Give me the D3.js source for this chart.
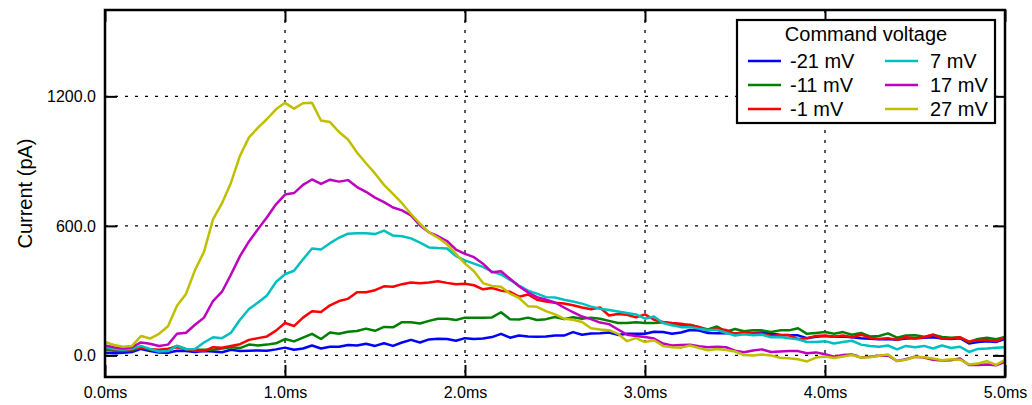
<!DOCTYPE html>
<html>
<head>
<meta charset="utf-8">
<script src="https://cdn.jsdelivr.net/npm/d3@7"></script>
<style>
  html, body { margin: 0; padding: 0; background: #fff; }
  svg text { font-family: "Liberation Sans", Arial, Helvetica, sans-serif; fill: #000; }
</style>
</head>
<body>
<svg id="chart" width="1032" height="405"></svg>
<script>
// Sample times (ms), one point every 0.05 ms from 0 to 5 ms
const timeStartMs = 0;
const timeStepMs = 0.05;

const seriesLabels = ["-21 mV", "-11 mV", "-1 mV", "7 mV", "17 mV", "27 mV"];
const seriesColors = ["#0000ff", "#008000", "#ff0000", "#00bfbf", "#bf00bf", "#bfbf00"];

// Recorded current (pA) for each command voltage
const currentMinus21 = [12,10,12,16,30,20,14,12,22,20,16,20,18,15,26,20,22,23,22,28,
  36,26,32,46,32,40,40,48,46,54,44,56,44,60,72,60,74,77,76,68,
  80,76,78,85,100,82,92,88,86,88,92,92,108,96,102,103,106,95,100,100,
  100,110,108,100,106,118,115,104,103,103,102,100,104,106,100,96,94,93,80,86,
  90,86,88,84,80,77,75,76,73,78,80,82,84,78,76,80,55,62,66,62,76];
const currentMinus11 = [26,22,20,24,36,26,24,28,44,30,26,26,26,32,38,34,50,46,50,56,
  76,65,82,100,76,106,100,110,113,124,114,132,130,154,154,148,160,170,170,164,
  175,175,175,176,200,168,166,175,164,168,178,168,177,170,175,170,160,150,150,154,
  150,150,154,147,140,142,131,120,134,110,122,112,116,116,108,116,116,126,100,104,
  108,100,108,96,104,88,90,102,82,92,93,86,96,85,82,84,62,76,82,75,85];
const currentMinus1 = [31,28,26,28,38,28,26,31,38,28,22,20,38,36,44,52,72,80,88,115,
  150,136,175,205,201,232,252,262,293,293,302,320,318,330,338,334,338,344,336,330,
  332,325,306,312,300,295,272,282,258,250,244,240,232,222,214,222,185,192,188,176,
  190,165,155,150,147,140,132,115,122,118,100,108,103,100,90,93,93,76,80,90,
  92,86,92,84,96,82,76,80,72,84,78,84,96,78,78,84,64,70,72,66,82];
const currentPlus7 = [38,30,26,31,44,30,18,20,44,28,30,60,84,80,105,165,215,245,278,340,
  376,392,445,495,491,520,545,564,566,566,562,578,555,552,542,522,500,497,495,460,
  440,425,410,388,375,350,324,300,286,270,268,258,250,240,226,216,210,203,196,190,
  170,180,150,140,131,131,124,118,118,105,92,98,93,96,84,85,80,75,62,62,
  66,55,62,68,50,44,40,46,28,44,38,44,32,46,34,40,16,30,32,36,38];
const currentPlus17 = [46,38,32,38,60,54,44,50,100,105,142,175,252,295,375,460,528,585,640,700,
  745,752,790,815,795,814,805,812,780,758,731,710,685,672,648,602,570,552,530,490,
  470,455,425,385,390,355,320,292,270,258,245,222,200,180,168,152,145,120,96,90,
  85,78,55,46,48,49,42,38,40,38,22,15,23,28,16,18,20,20,10,14,
  5,-6,2,4,-10,-6,-2,0,-26,-18,-6,-10,-20,-24,-22,-14,-44,-44,-42,-46,-30];
const currentPlus27 = [62,48,40,44,90,78,100,135,230,285,395,480,630,705,800,925,1010,1055,1095,1140,
  1170,1143,1168,1170,1088,1081,1035,1000,940,890,843,790,748,705,655,610,570,545,515,470,
  425,390,335,322,318,286,266,228,225,205,190,170,165,155,126,120,117,100,66,80,
  62,70,44,38,36,46,34,24,30,25,18,2,0,4,0,-11,-13,-18,-28,-10,
  -5,-12,-5,2,-10,-8,-2,4,-26,-20,-6,-8,-14,-22,-18,-20,-42,-38,-26,-44,-20];

const seriesValues = [currentMinus21, currentMinus11, currentMinus1, currentPlus7, currentPlus17, currentPlus27];

const xTicks = [0, 1, 2, 3, 4, 5];
const yTicks = [0, 600, 1200];
const xDomain = [0, 5];
const yDomain = [-100, 1600];
const legendTitle = "Command voltage";
const yAxisTitle = "Current (pA)";

// Layout
const plot = { left: 105, right: 1005, top: 10, bottom: 377 };
const svg = d3.select("#chart");

const x = d3.scaleLinear().domain(xDomain).range([plot.left, plot.right]);
const y = d3.scaleLinear().domain(yDomain).range([plot.bottom, plot.top]);

// Dotted grid
const grid = svg.append("g").attr("class", "grid");
grid.selectAll("line.gx").data(xTicks.filter(t => t > xDomain[0] && t < xDomain[1])).join("line")
  .attr("class", "gx")
  .attr("x1", d => x(d)).attr("x2", d => x(d))
  .attr("y1", plot.top).attr("y2", plot.bottom)
  .attr("stroke", "#000").attr("stroke-width", 1.3).attr("stroke-dasharray", "3,7");
grid.selectAll("line.gy").data(yTicks).join("line")
  .attr("class", "gy")
  .attr("x1", plot.left).attr("x2", plot.right)
  .attr("y1", d => y(d)).attr("y2", d => y(d))
  .attr("stroke", "#000").attr("stroke-width", 1.3).attr("stroke-dasharray", "3,7");

// Traces
svg.append("clipPath").attr("id", "plot-clip")
  .append("rect").attr("x", plot.left).attr("y", plot.top)
  .attr("width", plot.right - plot.left).attr("height", plot.bottom - plot.top);

const line = d3.line()
  .x((d, i) => x(timeStartMs + i * timeStepMs))
  .y(d => y(d));

svg.append("g").attr("clip-path", "url(#plot-clip)")
  .selectAll("path").data(seriesValues).join("path")
  .attr("d", d => line(d))
  .attr("fill", "none")
  .attr("stroke", (d, i) => seriesColors[i])
  .attr("stroke-width", 2.5)
  .attr("stroke-linejoin", "round")
  .attr("stroke-linecap", "round");

// Axes with inward ticks on all four sides
const tickLen = 12;
const fmtX = d => d3.format(".1f")(d) + "ms";
const fmtY = d => d3.format(".1f")(d);

const axisBottom = d3.axisBottom(x).tickValues(xTicks).tickSizeInner(-tickLen).tickSizeOuter(0).tickPadding(10).tickFormat(fmtX);
const axisTop = d3.axisTop(x).tickValues(xTicks).tickSizeInner(-tickLen).tickSizeOuter(0).tickFormat("");
const axisLeft = d3.axisLeft(y).tickValues(yTicks).tickSizeInner(-tickLen).tickSizeOuter(0).tickPadding(9).tickFormat(fmtY);
const axisRight = d3.axisRight(y).tickValues(yTicks).tickSizeInner(-tickLen).tickSizeOuter(0).tickFormat("");

function styleAxis(g) {
  g.select(".domain").remove();
  g.selectAll(".tick line").attr("stroke", "#000").attr("stroke-width", 2);
  g.selectAll(".tick text").attr("font-size", 16).attr("font-family", '"Liberation Sans", Arial, sans-serif');
}

svg.append("g").attr("transform", `translate(0,${plot.bottom})`).call(axisBottom).call(styleAxis);
svg.append("g").attr("transform", `translate(0,${plot.top})`).call(axisTop).call(styleAxis);
svg.append("g").attr("transform", `translate(${plot.left},0)`).call(axisLeft).call(styleAxis);
svg.append("g").attr("transform", `translate(${plot.right},0)`).call(axisRight).call(styleAxis);

// Frame
svg.append("rect")
  .attr("x", plot.left).attr("y", plot.top)
  .attr("width", plot.right - plot.left).attr("height", plot.bottom - plot.top)
  .attr("fill", "none").attr("stroke", "#000").attr("stroke-width", 2.5);

// Y axis title
svg.append("text")
  .attr("transform", `translate(32,${(plot.top + plot.bottom) / 2}) rotate(-90)`)
  .attr("text-anchor", "middle")
  .attr("font-size", 20)
  .text(yAxisTitle);

// Legend
const legend = svg.append("g").attr("class", "legend");
const lg = { x: 737, y: 20, w: 258, h: 103 };
legend.append("rect")
  .attr("x", lg.x).attr("y", lg.y).attr("width", lg.w).attr("height", lg.h)
  .attr("fill", "#fff").attr("stroke", "#000").attr("stroke-width", 2.2);
legend.append("text")
  .attr("x", lg.x + lg.w / 2).attr("y", lg.y + 21)
  .attr("text-anchor", "middle").attr("font-size", 20)
  .text(legendTitle);

const colLineX = [748, 885];
const colTextX = [790, 930];
const rowY = [61, 85, 109];
const entries = legend.selectAll("g.entry").data(seriesLabels).join("g").attr("class", "entry")
  .attr("transform", (d, i) => `translate(0,${rowY[i % 3]})`);
entries.append("line")
  .attr("x1", (d, i) => colLineX[Math.floor(i / 3)])
  .attr("x2", (d, i) => colLineX[Math.floor(i / 3)] + 33)
  .attr("y1", 0).attr("y2", 0)
  .attr("stroke", (d, i) => seriesColors[i]).attr("stroke-width", 2.5);
entries.append("text")
  .attr("x", (d, i) => colTextX[Math.floor(i / 3)])
  .attr("y", 0).attr("dy", "0.35em")
  .attr("font-size", 20)
  .text(d => d);
</script>
</body>
</html>
